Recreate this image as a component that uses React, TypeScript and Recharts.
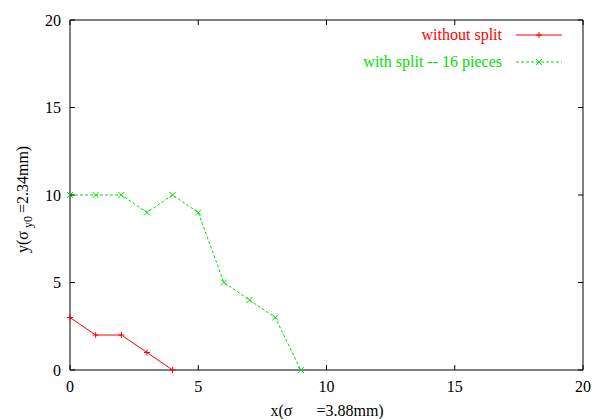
import React from 'react';
import { LineChart, Line, XAxis, YAxis, ReferenceLine } from 'recharts';

const xValues = [0, 1, 2, 3, 4, 5, 6, 7, 8, 9];
const withoutSplit = [3, 2, 2, 1, 0];
const withSplit = [10, 10, 10, 9, 10, 9, 5, 4, 3, 0];
const axisTicks = [0, 5, 10, 15, 20];

const RED = '#ff0000';
const GREEN = '#00e000';
const FONT = '"Liberation Serif", "Times New Roman", serif';

// plot box edges (chart is fixed size)
const TOP = 20;
const RIGHT = 583;
const TICK = 5;

const data = xValues.map((x, i) => ({
  x,
  red: i < withoutSplit.length ? withoutSplit[i] : null,
  green: withSplit[i],
}));

function PlusDot(props: any) {
  const { cx, cy } = props;
  if (cx == null || cy == null || props.value == null) return null;
  return <path d={`M${cx - 3},${cy}h6M${cx},${cy - 3}v6`} stroke={RED} strokeWidth={1} fill="none" />;
}

function CrossDot(props: any) {
  const { cx, cy } = props;
  if (cx == null || cy == null) return null;
  return <path d={`M${cx - 3},${cy - 3}l6,6M${cx - 3},${cy + 3}l6,-6`} stroke={GREEN} strokeWidth={1} fill="none" />;
}

// gnuplot style: labels outside, ticks inward on both sides
function XTick(props: any) {
  const { x, y, payload } = props;
  const axisY = y - 11;
  return (
    <g>
      <line x1={x} x2={x} y1={axisY} y2={axisY - TICK} stroke="#000" />
      <line x1={x} x2={x} y1={TOP} y2={TOP + TICK} stroke="#000" />
      <text x={x} y={y} dy="0.71em" textAnchor="middle" fill="#000" style={{ fontSize: 16, fontFamily: FONT }}>
        {payload.value}
      </text>
    </g>
  );
}

function YTick(props: any) {
  const { x, y, payload } = props;
  const axisX = x + 9;
  return (
    <g>
      <line x1={axisX} x2={axisX + TICK} y1={y} y2={y} stroke="#000" />
      <line x1={RIGHT} x2={RIGHT - TICK} y1={y} y2={y} stroke="#000" />
      <text x={x} y={y} dy="0.355em" textAnchor="end" fill="#000" style={{ fontSize: 16, fontFamily: FONT }}>
        {payload.value}
      </text>
    </g>
  );
}

function XLabel(props: any) {
  const { viewBox } = props;
  const cx = viewBox.x + viewBox.width / 2;
  return (
    <text x={cx - 56} y={viewBox.y + 46} style={{ fontSize: 16, fontFamily: FONT }} fill="#000">
      <tspan>x(σ</tspan>
      <tspan dx={24}>=3.88mm)</tspan>
    </text>
  );
}

function YLabel() {
  return (
    <text transform="translate(28,253) rotate(-90)" style={{ fontSize: 16, fontFamily: FONT }} fill="#000">
      <tspan>y(σ</tspan>
      <tspan dx={3} dy={4} fontSize={12}>y0</tspan>
      <tspan dx={3} dy={-4}>=2.34mm)</tspan>
    </text>
  );
}

export default function App() {
  return (
    <div style={{ position: 'absolute', left: 0, top: 0 }}>
      <LineChart width={598} height={419} data={data} margin={{ top: TOP, right: 15, bottom: 0, left: 0 }}>
        <XAxis
          dataKey="x" type="number" domain={[0, 20]} ticks={axisTicks}
          height={49} tickSize={0} tickMargin={11} tick={<XTick />}
          axisLine={{ stroke: '#000' }} tickLine={false}
          label={<XLabel />}
        />
        <YAxis
          type="number" domain={[0, 20]} ticks={axisTicks}
          width={70} tickSize={0} tickMargin={9} tick={<YTick />}
          axisLine={{ stroke: '#000' }} tickLine={false}
        />
        <ReferenceLine y={20} stroke="#000" />
        <ReferenceLine x={20} stroke="#000" />
        <Line
          dataKey="red" stroke={RED} strokeWidth={1}
          dot={<PlusDot />} activeDot={false} isAnimationActive={false}
        />
        <Line
          dataKey="green" stroke={GREEN} strokeWidth={1} strokeDasharray="3 2"
          dot={<CrossDot />} activeDot={false} isAnimationActive={false}
        />
        <YLabel />
        <g style={{ fontSize: 16, fontFamily: FONT }}>
          <text x={502} y={40} textAnchor="end" fill={RED}>without split</text>
          <line x1={516} x2={562} y1={35} y2={35} stroke={RED} />
          <path d="M539,32v6M536,35h6" stroke={RED} />
          <text x={502} y={67} textAnchor="end" fill={GREEN}>with split -- 16 pieces</text>
          <line x1={516} x2={562} y1={62} y2={62} stroke={GREEN} strokeDasharray="3 2" />
          <path d="M536,59l6,6M536,65l6,-6" stroke={GREEN} />
        </g>
      </LineChart>
    </div>
  );
}
